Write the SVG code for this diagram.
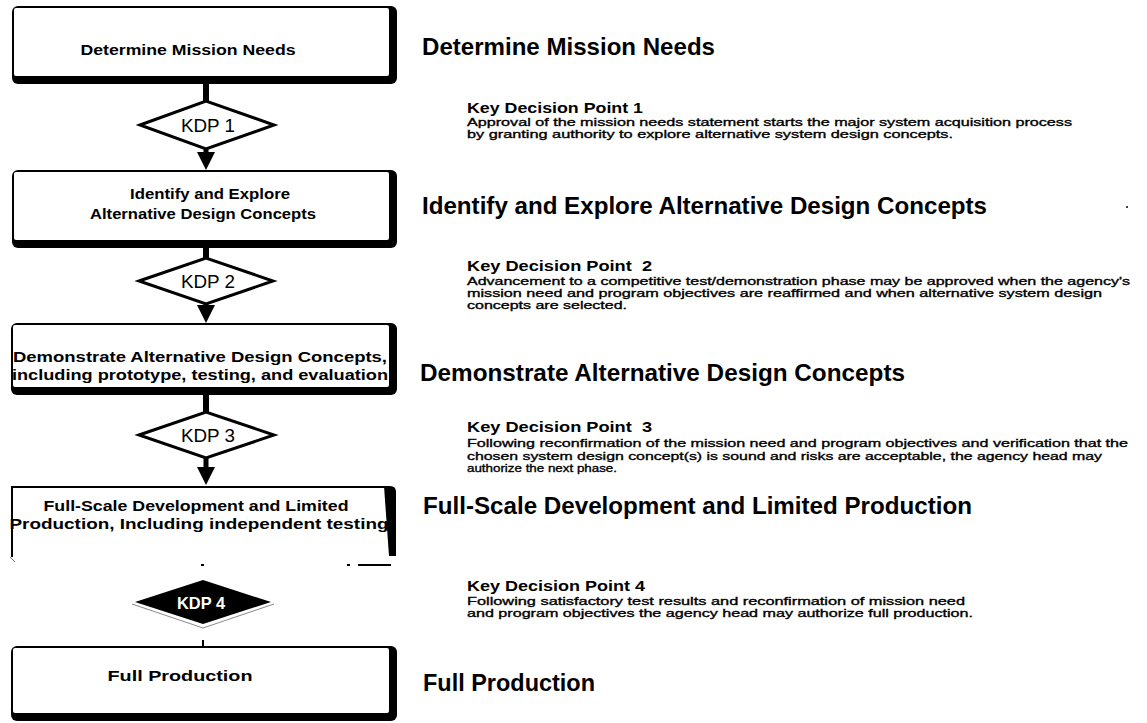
<svg xmlns="http://www.w3.org/2000/svg" width="1147" height="723" viewBox="0 0 1147 723">
  <defs>
    <style>
      .frame { fill: #000; }
      .face { fill: #fff; }
      .edge { fill: none; stroke: #000; stroke-width: 2; }
      .btxt { font-family: "Liberation Sans", Arial, sans-serif; font-weight: bold; font-size: 14px; fill: #000; text-anchor: middle; }
      .btxt.lg { font-size: 15px; }
      .kdp { fill: #fff; stroke: #000; stroke-width: 3; stroke-linejoin: miter; }
      .kdp-dark { fill: #000; }
      .kdp-rim { fill: none; stroke: #8a8a8a; stroke-width: 1; }
      .ktxt { font-family: "Liberation Sans", Arial, sans-serif; font-size: 18px; fill: #000; text-anchor: middle; }
      .ktxt.inv { fill: #fff; font-weight: bold; font-size: 17px; }
      .head { font-family: "Liberation Sans", Arial, sans-serif; font-weight: bold; font-size: 24px; fill: #000; }
      .sub { font-family: "Liberation Sans", Arial, sans-serif; font-weight: bold; font-size: 14px; fill: #000; white-space: pre; }
      .body { font-family: "Liberation Sans", Arial, sans-serif; font-size: 11.5px; fill: #000; stroke: #000; stroke-width: 0.35; }
      .link { stroke: #000; stroke-width: 6; fill: none; }
      .stem { stroke: #000; stroke-width: 5; fill: none; marker-end: url(#head); }
      .scrap { fill: #000; }
      .scrap-line { stroke: #777; stroke-width: 1; fill: none; }
    </style>
    <!-- downward arrowhead whose base sits at the end of a short stem -->
    <marker id="head" markerUnits="userSpaceOnUse" viewBox="0 0 10 10" refX="0" refY="5" markerWidth="18" markerHeight="19" orient="auto">
      <path d="M0,0 L10,5 L0,10 Z" fill="#000"/>
    </marker>
  </defs>

  <rect width="1147" height="723" fill="#fff"/>

  <!-- connectors between phases and decision points -->
  <g id="connectors">
    <line class="link" x1="206" y1="82" x2="206" y2="102"/>
    <path class="stem" d="M206,148 L206,152"/>
    <line class="link" x1="206" y1="246" x2="206" y2="259"/>
    <path class="stem" d="M206,303 L206,305"/>
    <line class="link" x1="206" y1="393" x2="206" y2="413"/>
    <path class="stem" d="M206,457 L206,467"/>
    <!-- broken remnants around the last decision point -->
    <rect class="scrap" x="201" y="564" width="3" height="2"/>
    <rect class="scrap" x="202" y="640" width="2" height="6"/>
  </g>

  <!-- phase boxes -->
  <g id="box-mission-needs">
    <rect class="frame" x="12" y="6" width="385" height="78" rx="6"/>
    <rect class="face" x="14" y="8" width="375" height="68" rx="2"/>
    <text class="btxt" x="188" y="55" textLength="215" lengthAdjust="spacingAndGlyphs">Determine Mission Needs</text>
  </g>

  <g id="box-explore">
    <rect class="frame" x="12" y="170" width="385" height="78" rx="6"/>
    <rect class="face" x="14" y="172" width="375" height="68" rx="2"/>
    <text class="btxt" x="210" y="199" textLength="160" lengthAdjust="spacingAndGlyphs">Identify and Explore</text>
    <text class="btxt" x="203" y="219" textLength="226" lengthAdjust="spacingAndGlyphs">Alternative Design Concepts</text>
  </g>

  <g id="box-demonstrate">
    <rect class="frame" x="11" y="323" width="386" height="72" rx="6"/>
    <rect class="face" x="13" y="325" width="376" height="62" rx="2"/>
    <text class="btxt lg" x="200" y="362" textLength="374" lengthAdjust="spacingAndGlyphs">Demonstrate Alternative Design Concepts,</text>
    <text class="btxt lg" x="200" y="380" textLength="376" lengthAdjust="spacingAndGlyphs">including prototype, testing, and evaluation</text>
  </g>

  <g id="box-full-scale">
    <!-- open at the bottom -->
    <path class="frame" d="M384,486 L390,486 Q396,486 396,492 L396,556 L389,556 Z"/>
    <path class="edge" d="M12,557 L12,487 L390,487"/>
    <text class="btxt lg" x="196" y="511" textLength="305" lengthAdjust="spacingAndGlyphs">Full-Scale Development and Limited</text>
    <text class="btxt lg" x="199" y="529" textLength="379" lengthAdjust="spacingAndGlyphs">Production, Including independent testing</text>
    <line class="scrap-line" x1="10" y1="557" x2="15" y2="562"/>
    <rect class="scrap" x="347" y="564" width="3" height="2"/>
    <rect class="scrap" x="358" y="564" width="33" height="2"/>
  </g>

  <g id="box-full-production">
    <rect class="frame" x="11" y="646" width="386" height="75" rx="6"/>
    <rect class="face" x="13" y="648" width="376" height="65" rx="2"/>
    <text class="btxt" x="180" y="681" textLength="145" lengthAdjust="spacingAndGlyphs">Full Production</text>
  </g>

  <!-- key decision points -->
  <g id="kdp-1">
    <polygon class="kdp" points="140,125 206,101 274,125 206,149"/>
    <text class="ktxt" x="208" y="132" textLength="54" lengthAdjust="spacingAndGlyphs">KDP 1</text>
  </g>
  <g id="kdp-2">
    <polygon class="kdp" points="139,281 206,258 273,281 206,304"/>
    <text class="ktxt" x="208" y="288" textLength="54" lengthAdjust="spacingAndGlyphs">KDP 2</text>
  </g>
  <g id="kdp-3">
    <polygon class="kdp" points="139,435 206,412 274,435 206,458"/>
    <text class="ktxt" x="208" y="442" textLength="54" lengthAdjust="spacingAndGlyphs">KDP 3</text>
  </g>
  <g id="kdp-4">
    <polygon class="kdp-dark" points="135,602 203,580 271,602 203,624"/>
    <path class="kdp-rim" d="M132,604 L203,628 L274,604"/>
    <text class="ktxt inv" x="201" y="609" textLength="48" lengthAdjust="spacingAndGlyphs">KDP 4</text>
  </g>

  <!-- phase descriptions -->
  <g id="notes">
    <text class="head" x="422" y="55" textLength="293" lengthAdjust="spacingAndGlyphs">Determine Mission Needs</text>

    <text class="sub" x="467" y="113" textLength="176" lengthAdjust="spacingAndGlyphs">Key Decision Point 1</text>
    <text class="body" x="467" y="126" textLength="605" lengthAdjust="spacingAndGlyphs">Approval of the mission needs statement starts the major system acquisition process</text>
    <text class="body" x="467" y="138" textLength="486" lengthAdjust="spacingAndGlyphs">by granting authority to explore alternative system design concepts.</text>

    <text class="head" x="422" y="214" textLength="565" lengthAdjust="spacingAndGlyphs">Identify and Explore Alternative Design Concepts</text>

    <text class="sub" x="467" y="271" textLength="185" lengthAdjust="spacingAndGlyphs">Key Decision Point  2</text>
    <text class="body" x="467" y="285" textLength="663" lengthAdjust="spacingAndGlyphs">Advancement to a competitive test/demonstration phase may be approved when the agency's</text>
    <text class="body" x="467" y="297" textLength="635" lengthAdjust="spacingAndGlyphs">mission need and program objectives are reaffirmed and when alternative system design</text>
    <text class="body" x="467" y="309" textLength="160" lengthAdjust="spacingAndGlyphs">concepts are selected.</text>

    <text class="head" x="420" y="381" textLength="485" lengthAdjust="spacingAndGlyphs">Demonstrate Alternative Design Concepts</text>

    <text class="sub" x="467" y="432" textLength="185" lengthAdjust="spacingAndGlyphs">Key Decision Point  3</text>
    <text class="body" x="467" y="447" textLength="661" lengthAdjust="spacingAndGlyphs">Following reconfirmation of the mission need and program objectives and verification that the</text>
    <text class="body" x="467" y="460" textLength="635" lengthAdjust="spacingAndGlyphs">chosen system design concept(s) is sound and risks are acceptable, the agency head may</text>
    <text class="body" x="467" y="472" textLength="150" lengthAdjust="spacingAndGlyphs">authorize the next phase.</text>

    <text class="head" x="423" y="514" textLength="549" lengthAdjust="spacingAndGlyphs">Full-Scale Development and Limited Production</text>

    <text class="sub" x="467" y="591" textLength="178" lengthAdjust="spacingAndGlyphs">Key Decision Point 4</text>
    <text class="body" x="467" y="605" textLength="498" lengthAdjust="spacingAndGlyphs">Following satisfactory test results and reconfirmation of mission need</text>
    <text class="body" x="467" y="617" textLength="506" lengthAdjust="spacingAndGlyphs">and program objectives the agency head may authorize full production.</text>

    <text class="head" x="423" y="691" textLength="172" lengthAdjust="spacingAndGlyphs">Full Production</text>

    <circle cx="1127" cy="207" r="1" fill="#000"/>
  </g>
</svg>
